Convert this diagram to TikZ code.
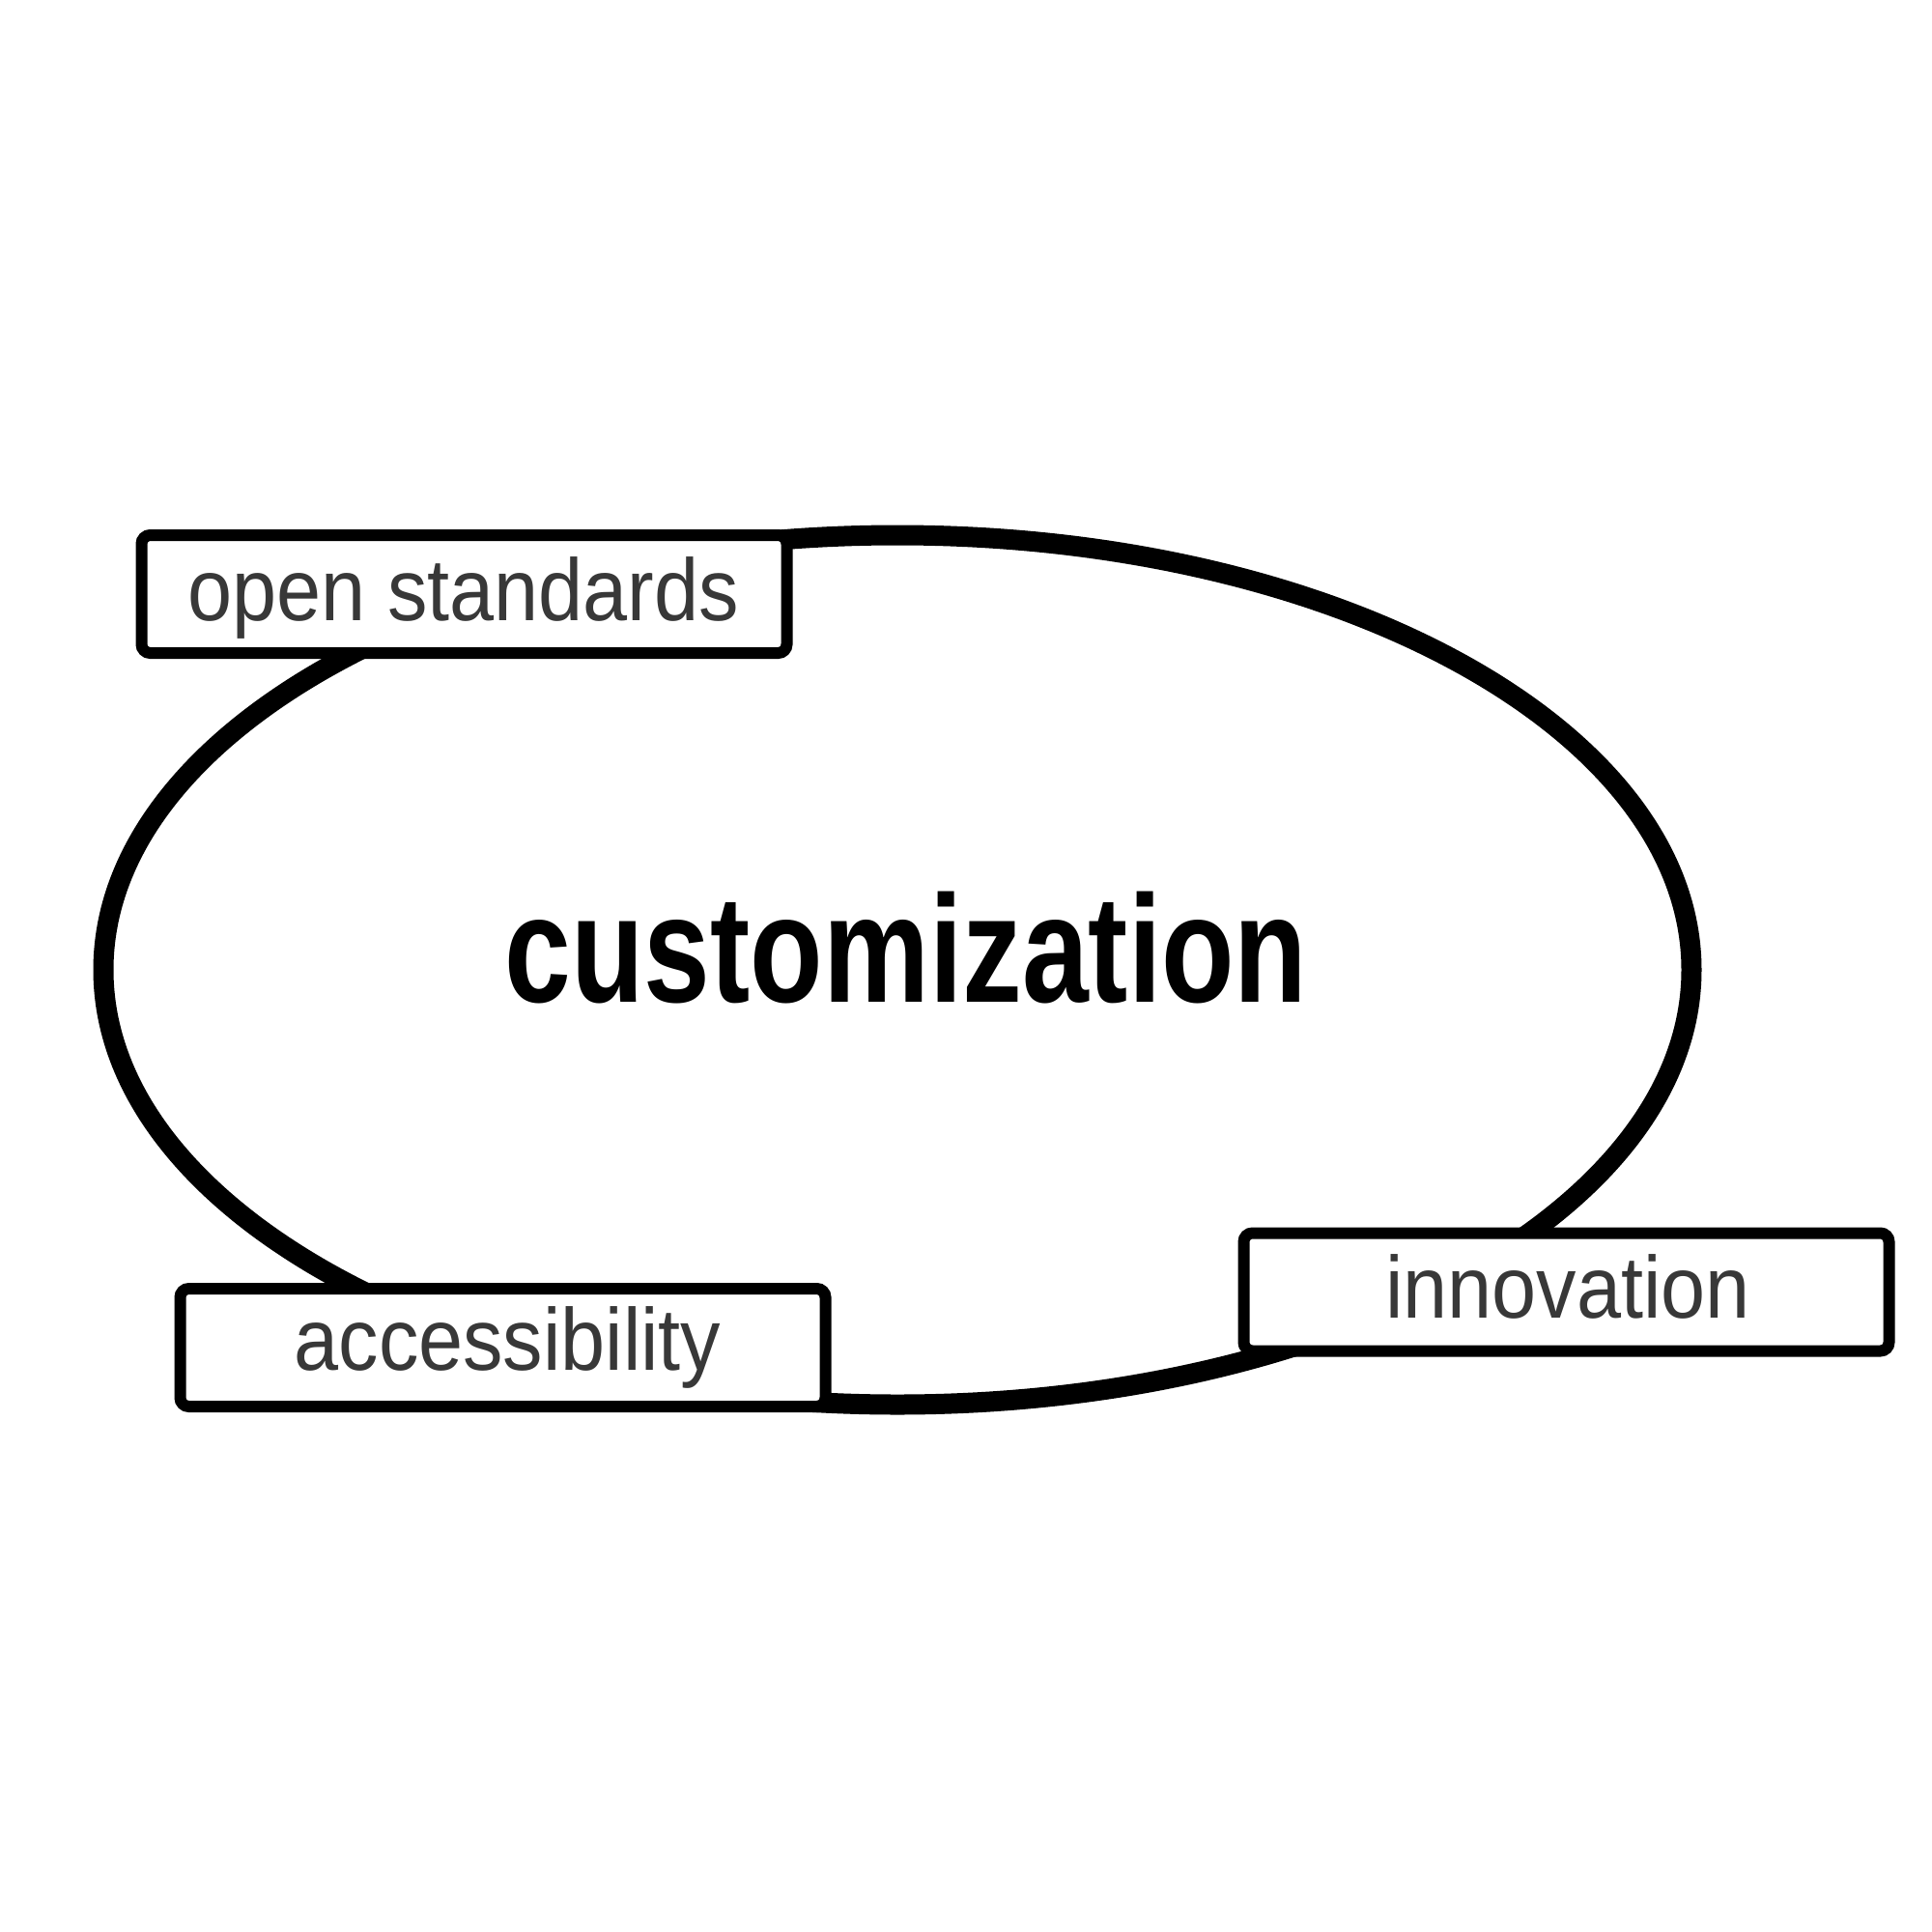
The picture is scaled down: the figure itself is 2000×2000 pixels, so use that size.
\documentclass[tikz,border=0pt]{standalone}
\usepackage{fontspec}
\usetikzlibrary{shapes.geometric}
\newfontfamily\labelfont[FakeStretch=0.91]{Liberation Sans}
\newfontfamily\bigfont[FakeStretch=0.782]{Liberation Sans}
\definecolor{labelgray}{HTML}{383838}
\begin{document}
\begin{tikzpicture}[x=1pt,y=-1pt,
  loopline/.style={draw=black,line width=21pt,ellipse,inner sep=0pt,
    minimum width=1644pt,minimum height=900pt},
  tagbox/.style={draw=black,fill=white,line width=12pt,rounded corners=9pt,
    inner sep=0pt,minimum width=668pt,minimum height=122pt},
  tagtext/.style={anchor=base,inner sep=0pt,text=labelgray,
    font=\labelfont\fontsize{91}{95}\selectfont},
  bigtext/.style={anchor=base,inner sep=0pt,text=black,
    font=\bigfont\bfseries\fontsize{158}{160}\selectfont}]
\useasboundingbox[fill=white] (0,0) rectangle (2000,2000);
\node[loopline] (loop) at (929,1004) {};
\node[tagbox] (osbox) at (480.5,615) {};
\node[tagbox] (accbox) at (520.5,1395) {};
\node[tagbox] (innbox) at (1621.5,1337.5) {};
\node[tagtext] (ostxt) at (479.5,642) {open standards};
\node[tagtext] (acctxt) at (525.5,1418) {accessibility};
\node[tagtext] (inntxt) at (1623,1364) {innovation};
\node[bigtext] (custom) at (938,1037) {customization};
\end{tikzpicture}
\end{document}
